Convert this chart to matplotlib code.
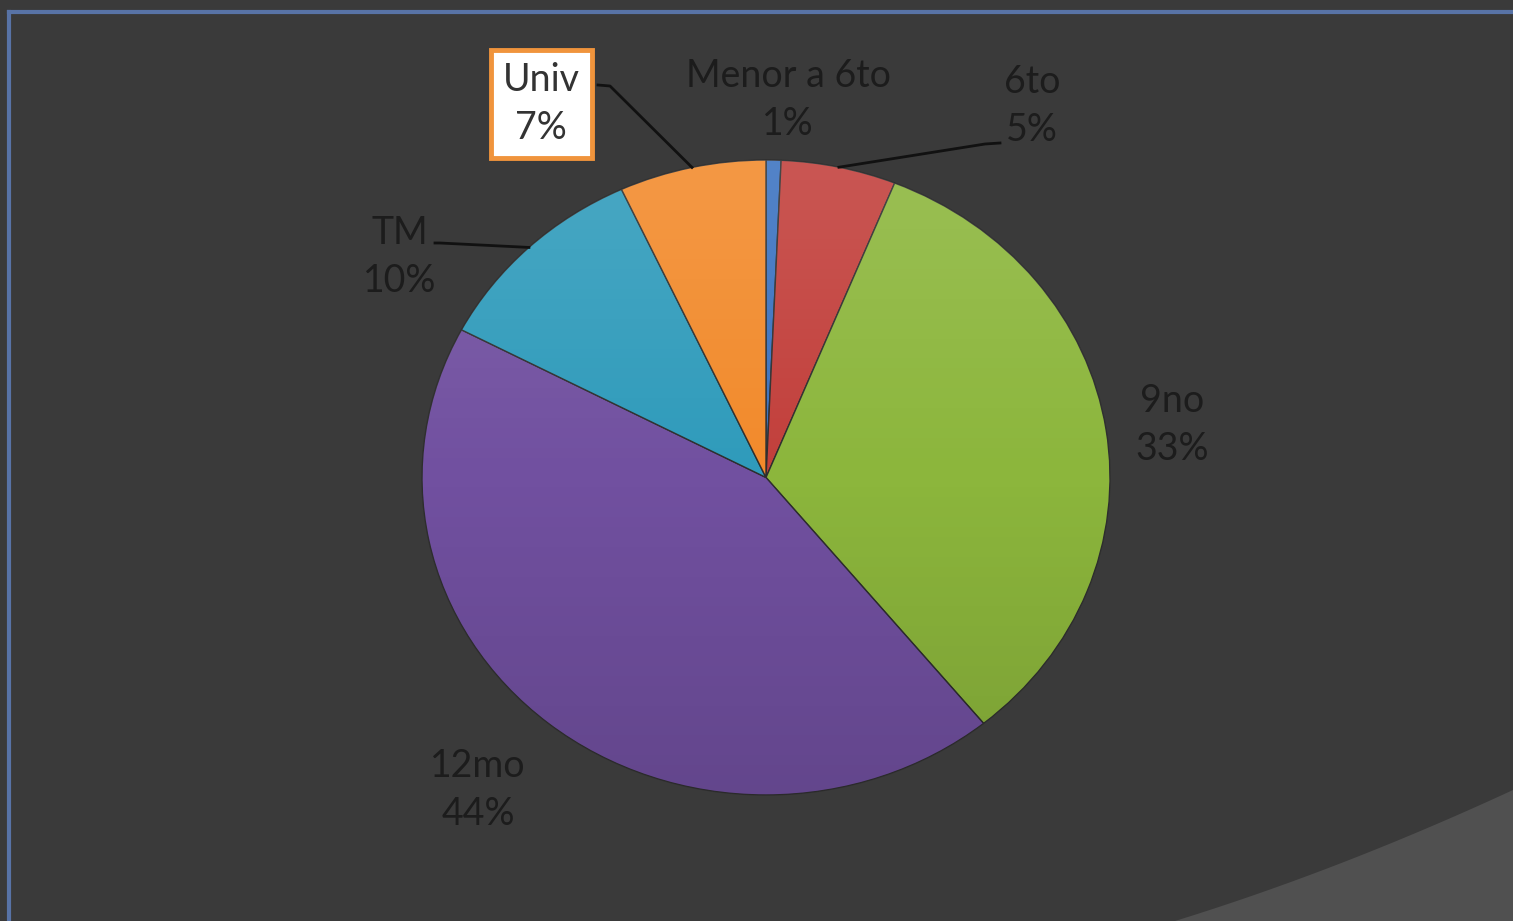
import numpy as np
import matplotlib
matplotlib.use("Agg")
import matplotlib.pyplot as plt
from matplotlib.patches import Polygon, Circle
from matplotlib.lines import Line2D

# data (percent of respondents by schooling level)
categories = ["Menor a 6to", "6to", "9no", "12mo", "TM", "Univ"]
values = [0.7, 5.4, 33.0, 43.6, 10.4, 6.9]
colors = ["#3b72c0", "#c23f3b", "#8cb63c", "#7150a0", "#2f9bbb", "#f28a2b"]

W, H = 1513, 921
BG = "#3a3a3a"
TXT = "#1c1c1c"

plt.rcParams['font.family'] = ['Lato', 'DejaVu Sans']

fig = plt.figure(figsize=(W / 100, H / 100), dpi=100, facecolor=BG)

# theme swoosh in the bottom right corner
t = np.linspace(0, 1, 60)
p0, p1, p2 = np.array([1175, 921]), np.array([1340, 870]), np.array([1513, 790])
curve = [(1 - s) ** 2 * p0 + 2 * (1 - s) * s * p1 + s ** 2 * p2 for s in t]
pts = [(x / W, 1 - y / H) for x, y in curve] + [(1, 0), (1175 / W, 0)]
fig.patches.append(Polygon(pts, closed=True, transform=fig.transFigure,
                           facecolor="#505050", edgecolor="none", zorder=0))

# frame lines (top and left)
fig.lines.append(Line2D([9 / W, 1], [1 - 12 / H, 1 - 12 / H], transform=fig.transFigure,
                        color="#5873a6", lw=3))
fig.lines.append(Line2D([9 / W, 9 / W], [0, 1 - 12 / H], transform=fig.transFigure,
                        color="#5873a6", lw=3))

# pie axes: slightly wider than tall, like the original
left, right, top, bottom = 422, 1110, 160, 795
ax = fig.add_axes([left / W, 1 - bottom / H, (right - left) / W, (bottom - top) / H])
ax.set_facecolor("none")
wedges, _ = ax.pie(values, colors=colors, startangle=90, counterclock=False,
                   radius=1, wedgeprops=dict(edgecolor="#2e2e2e", linewidth=1.0))
ax.set_aspect("auto")
ax.set_xlim(-1, 1)
ax.set_ylim(-1, 1)
ax.axis("off")

# soft light-to-dark shading over the pie (bevel look)
g = np.linspace(0, 1, 256)[:, None] * np.ones((1, 4))
shade = np.zeros((256, 1, 4))
shade[:, 0, :3] = np.where(g[:, :3] < 0.5, 1.0, 0.0)
shade[:, 0, 3] = np.abs(g[:, 0] - 0.5) * 0.25
img = ax.imshow(shade, extent=(-1, 1, -1, 1), aspect="auto", origin="upper",
                interpolation="bilinear", zorder=3)
img.set_clip_path(Circle((0, 0), 1, transform=ax.transData))
ax.set_xlim(-1, 1)
ax.set_ylim(-1, 1)


def px_to_data(px, py):
    return ax.transData.inverted().transform(
        fig.transFigure.transform((px / W, 1 - py / H)))


def mid_edge(w):
    a = np.deg2rad((w.theta1 + w.theta2) / 2)
    return np.cos(a), np.sin(a)


# label positions in pixels (center of text block)
label_pos = {
    "Menor a 6to": (788, 100),
    "6to": (1032, 106),
    "9no": (1172, 425),
    "12mo": (478, 790),
    "TM": (400, 257),
    "Univ": (541, 104),
}

for w, cat, v in zip(wedges, categories, values):
    x, y = px_to_data(*label_pos[cat])
    txt = f"{cat}\n{v:.0f}%"
    if cat == "Univ":
        ax.text(x, y, txt, ha="center", va="center", fontsize=27, color="#333333",
                linespacing=1.4, clip_on=False, zorder=5,
                bbox=dict(boxstyle="square,pad=0.32", facecolor="white",
                          edgecolor="#f0943c", linewidth=3.5))
    else:
        ax.text(x, y, txt, ha="center", va="center", fontsize=27, color=TXT,
                linespacing=1.4, clip_on=False, zorder=5)

# leader lines
leaders = {
    "Univ": [(598, 85), (610, 86)],
    "6to": [(1000, 143), (985, 144)],
    "TM": [(435, 243), (440, 243)],
}
for w, cat in zip(wedges, categories):
    if cat in leaders:
        path = [px_to_data(px, py) for px, py in leaders[cat]]
        ex, ey = mid_edge(w)
        xs = [p[0] for p in path] + [ex]
        ys = [p[1] for p in path] + [ey]
        ax.plot(xs, ys, color="#111111", lw=2, clip_on=False, zorder=5)

fig.savefig("out.png", dpi=100, facecolor=BG)
